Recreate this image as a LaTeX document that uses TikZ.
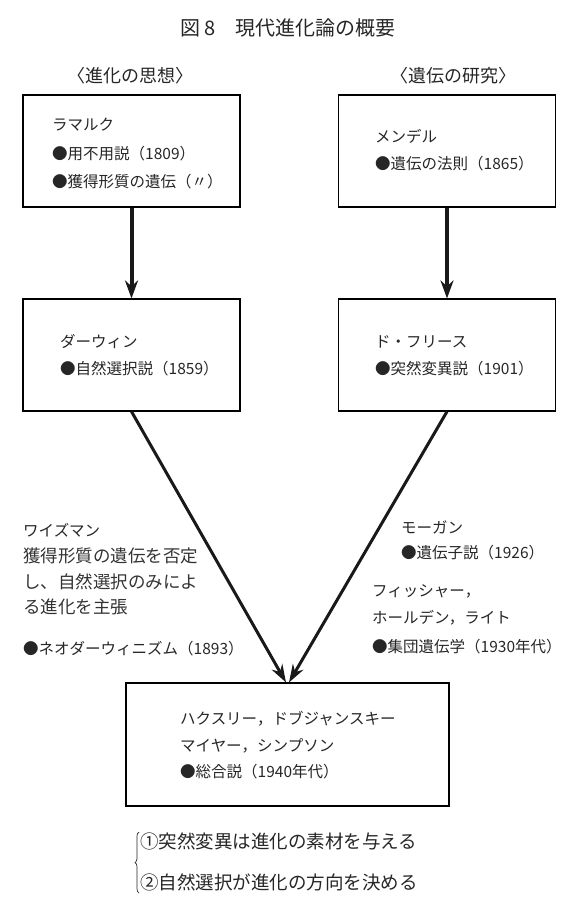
\documentclass[tikz,border=0pt]{standalone}
\usepackage{fontspec}
\setmainfont{Noto Sans CJK JP}
\usetikzlibrary{arrows.meta,decorations.pathreplacing}
\tikzset{
  box/.style={draw, line width=1.1pt, minimum width=217pt, minimum height=112pt, inner sep=0pt},
  txt/.style={anchor=west, inner sep=0pt, font=\fontsize{15.5}{18}\selectfont, text=black!85},
  serif/.style={anchor=west, inner sep=0pt, font=\fontsize{17.5}{20}\selectfont, text=black!80},
  hdr/.style={inner sep=0pt, font=\fontsize{18}{21}\selectfont, text=black!85},
  varrow/.style={line width=4pt, -{Stealth[length=18pt,width=13pt]}, black!90},
  darrow/.style={line width=3pt, -{Stealth[length=18pt,width=12pt]}, black!90},
}
\begin{document}
\begin{tikzpicture}[x=1pt,y=-1pt]
\useasboundingbox (0,0) rectangle (579,920);
\node[hdr, font=\fontsize{20}{23}\selectfont] (title) at (288,28) {図 8　現代進化論の概要};
\node[hdr] (h1) at (130,76) {〈進化の思想〉};
\node[hdr] (h2) at (453,76) {〈遺伝の研究〉};

\node[box] (b1) at (131.5,151) {};
\node[box] (b2) at (447,151) {};
\node[box] (b3) at (131.5,355) {};
\node[box] (b4) at (447,355) {};
\node[box, minimum width=323pt, minimum height=123pt] (b5) at (287.5,744.5) {};

\node[txt] (t11) at (52,125) {ラマルク};
\node[txt] (t12) at (52,154) {●用不用説（1809）};
\node[txt] (t13) at (52,182) {●獲得形質の遺伝（〃）};

\node[txt] (t21) at (375,136) {メンデル};
\node[txt] (t22) at (375,164) {●遺伝の法則（1865）};

\node[txt] (t31) at (60,342) {ダーウィン};
\node[txt] (t32) at (60,369) {●自然選択説（1859）};

\node[txt] (t41) at (375,342) {ド・フリース};
\node[txt] (t42) at (375,369) {●突然変異説（1901）};

\node[txt] (w1) at (23,530) {ワイズマン};
\node[serif] (w2) at (23,556) {獲得形質の遺伝を否定};
\node[serif] (w3) at (23,582) {し、自然選択のみによ};
\node[serif] (w4) at (23,607) {る進化を主張};
\node[txt] (w5) at (23,649) {●ネオダーウィニズム（1893）};

\node[txt] (m1) at (401,527) {モーガン};
\node[txt] (m2) at (401,553) {●遺伝子説（1926）};
\node[txt] (m3) at (372,591) {フィッシャー，};
\node[txt] (m4) at (372,618) {ホールデン，ライト};
\node[txt] (m5) at (372,647) {●集団遺伝学（1930年代）};

\node[txt] (s1) at (180,719) {ハクスリー，ドブジャンスキー};
\node[txt] (s2) at (180,746) {マイヤー，シンプソン};
\node[txt] (s3) at (180,772) {●総合説（1940年代）};

\node[txt, font=\fontsize{18.5}{21}\selectfont] (p1) at (140,841) {①突然変異は進化の素材を与える};
\node[txt, font=\fontsize{18.5}{21}\selectfont] (p2) at (140,882) {②自然選択が進化の方向を決める};
\coordinate (br1) at (139,893);
\coordinate (br2) at (139,832);
\draw[black!85, line width=0.7pt, decoration={brace,amplitude=4pt}, decorate] (br1) -- (br2);

\draw[varrow] (b1.south) -- (b3.north);
\draw[varrow] (b2.south) -- (b4.north);
\draw[darrow] (b3.south) -- ([xshift=-1.5pt]b5.north);
\draw[darrow] (b4.south) -- ([xshift=1.5pt]b5.north);
\end{tikzpicture}
\end{document}
